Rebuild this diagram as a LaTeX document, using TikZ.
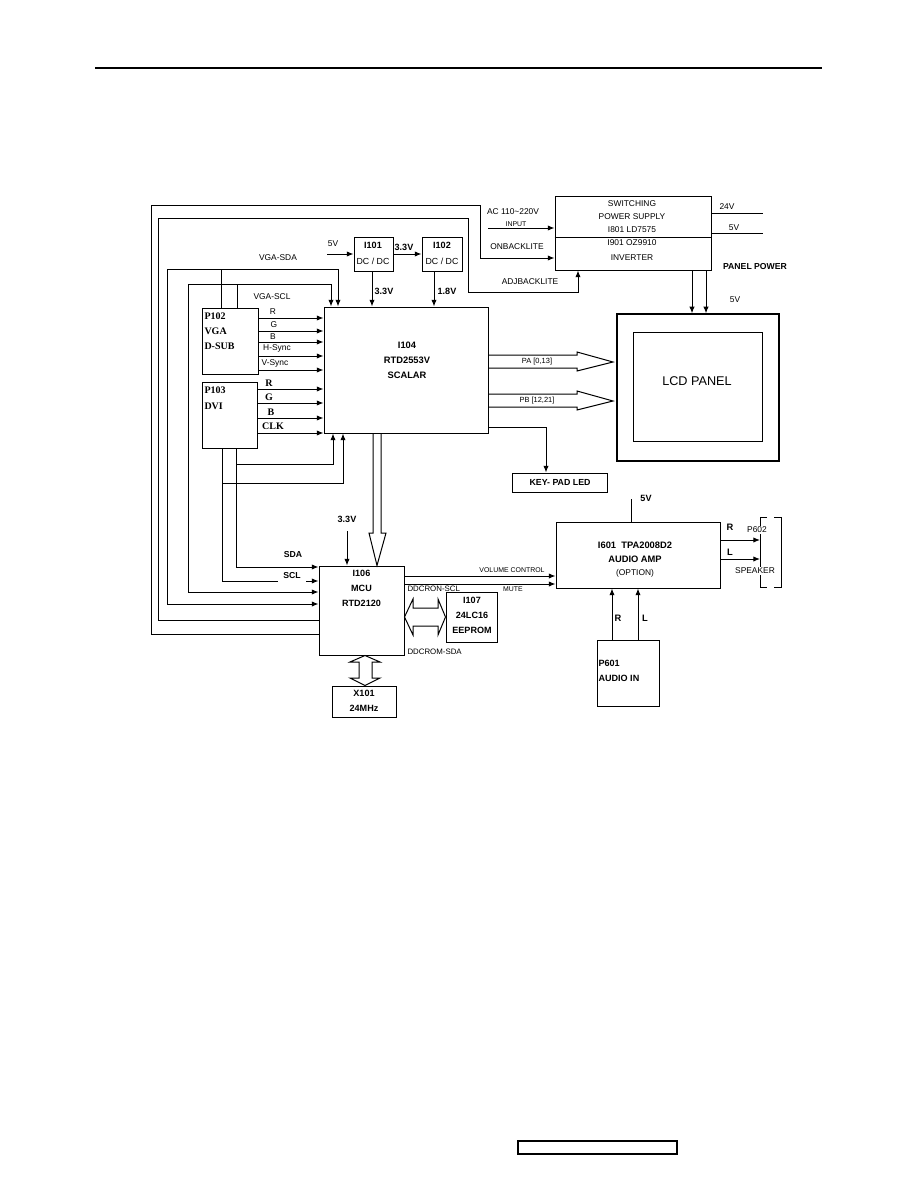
\documentclass[tikz,border=0pt]{standalone}
\usepackage{fontspec}
\setmainfont{Liberation Sans}
\newfontfamily\serifbf{Liberation Serif}
\usetikzlibrary{arrows.meta,fit}
\begin{document}
\begin{tikzpicture}[x=0.75pt,y=-0.75pt,line width=0.75pt,
  bx/.style={draw,inner sep=0pt},
  arr/.style={-{Latex[length=5pt,width=4pt]}},
  sm/.style={inner sep=0pt,font=\fontsize{6.3}{10}\selectfont},
  tn/.style={inner sep=0pt,font=\fontsize{5.2}{6}\selectfont},
  bl/.style={inner sep=0pt,align=center,font=\fontsize{6.8}{11.25}\selectfont\bfseries},
  sb/.style={inner sep=0pt,align=left,font=\serifbf\bfseries\fontsize{7.5}{11.25}\selectfont},
]
\fill[white] (0,0) rectangle (918,1188);
\path[use as bounding box] (0,0) rectangle (918,1188);

% header and footer
\draw[line width=1pt] (95,68) -- (822,68);
\node[bx,line width=1pt,fit={(518,1141) (677,1154)}] (foot) {};

% boxes
\node[bx,fit={(555,196) (711,270)}] (sps) {};
\draw (sps.west |- 0,237) -- (sps.east |- 0,237);
\node[bx,fit={(354,237) (393,271)}] (i101) {};
\node[bx,fit={(422,237) (462,271)}] (i102) {};
\node[bx,fit={(324,307) (488,433)}] (scal) {};
\node[bx,fit={(202,308) (258,374)}] (p102) {};
\node[bx,fit={(202,382) (257,448)}] (p103) {};
\node[bx,line width=1pt,fit={(617,314) (779,461)}] (lcdo) {};
\node[bx,fit={(633,332) (762,441)}] (lcdi) {};
\node[bx,fit={(512,473) (607,492)}] (key) {};
\node[bx,fit={(319,566) (404,655)}] (mcu) {};
\node[bx,fit={(446,592) (497,642)}] (i107) {};
\node[bx,fit={(332,686) (396,717)}] (x101) {};
\node[bx,fit={(556,522) (720,588)}] (amp) {};
\node[bx,fit={(597,640) (659,706)}] (p601) {};

% box texts
\node[sm,align=center,font=\fontsize{6.3}{10}\selectfont] (spst) at (632,216.5) {SWITCHING\\POWER SUPPLY\\I801 LD7575};
\node[sm,align=center,font=\fontsize{6.3}{11.25}\selectfont] (invt) at (632,250.5) {I901 OZ9910\\INVERTER};
\node[bl] (i101a) at (373,245) {I101};
\node[sm,font=\fontsize{6.6}{8}\selectfont] (i101b) at (373,261) {DC / DC};
\node[bl] (i102a) at (442,245) {I102};
\node[sm,font=\fontsize{6.6}{8}\selectfont] (i102b) at (442,261) {DC / DC};
\node[bl,font=\fontsize{7}{11.25}\selectfont\bfseries] (scalt) at (407,360) {I104\\RTD2553V\\SCALAR};
\node[sb,anchor=west] (p102t) at (204,331) {P102\\VGA\\D-SUB};
\node[sb,anchor=west,font=\serifbf\bfseries\fontsize{7.5}{12}\selectfont] (p103t) at (204,398) {P103\\DVI};
\node[inner sep=0pt,font=\fontsize{9.5}{11}\selectfont] (lcdt) at (697,381) {LCD PANEL};
\node[bl,font=\fontsize{6.6}{8}\selectfont\bfseries] (keyt) at (560,482) {KEY- PAD LED};
\node[bl] (mcut) at (361.5,588) {I106\\MCU\\RTD2120};
\node[bl] (i107t) at (472,615) {I107\\24LC16\\EEPROM};
\node[bl] (x101t) at (364,700.5) {X101\\24MHz};
\node[bl,font=\fontsize{7}{10.5}\selectfont\bfseries] (ampt) at (635,552) {I601~~TPA2008D2\\AUDIO AMP};
\node[sm] (opt) at (635,573) {(OPTION)};
\node[bl,align=left,anchor=west] (p601t) at (598,670.5) {P601\\AUDIO IN};

% top power section
\draw[arr] (327,254) -- (i101.west |- 0,254);
\node[sm] (l5va) at (333,244) {5V};
\draw[arr] (i101.east |- 0,254) -- (i102.west |- 0,254);
\node[bl] (l33a) at (404,247) {3.3V};
\draw[arr] (i101.south -| 372,0) -- (scal.north -| 372,0);
\node[bl] (l33b) at (384,291) {3.3V};
\draw[arr] (i102.south -| 434,0) -- (scal.north -| 434,0);
\node[bl] (l18) at (447,291) {1.8V};

\draw[arr] (488,228) -- (sps.west |- 0,228);
\node[sm] (lac) at (513,212) {AC 110\textasciitilde220V};
\node[tn] (linp) at (516,224) {INPUT};
\node[sm] (lonb) at (517,247) {ONBACKLITE};
\node[sm] (ladj) at (530,282) {ADJBACKLITE};
\draw (sps.east |- 0,213) -- (763,213);
\node[sm] (l24) at (727,207) {24V};
\draw (sps.east |- 0,233) -- (763,233);
\node[sm] (l5vb) at (734,228) {5V};
\node[bl,font=\fontsize{6.5}{8}\selectfont\bfseries] (lpp) at (755,267) {PANEL POWER};
\node[sm] (l5vc) at (735,300) {5V};
\draw[arr] (sps.south -| 692,0) -- (lcdo.north -| 692,0);
\draw[arr] (sps.south -| 706,0) -- (lcdo.north -| 706,0);

% long loops
\draw[arr] (mcu.west |- 0,634) -- (151,634) -- (151,205) -- (480,205) -- (480,258) -- (sps.west |- 0,258);
\draw[arr] (mcu.west |- 0,620) -- (158,620) -- (158,218) -- (468,218) -- (468,292) -- (578,292) -- (sps.south -| 578,0);

% VGA-SDA / VGA-SCL
\draw[arr] (167,269) -- (338,269) -- (scal.north -| 338,0);
\draw[arr] (167,269) -- (167,604) -- (mcu.west |- 0,604);
\draw (221,269) -- (p102.north -| 221,0);
\node[sm] (lvsda) at (278,258) {VGA-SDA};
\draw[arr] (188,284) -- (331,284) -- (scal.north -| 331,0);
\draw[arr] (188,284) -- (188,592) -- (mcu.west |- 0,592);
\draw (237,284) -- (p102.north -| 237,0);
\node[sm] (lvscl) at (272,297) {VGA-SCL};

% VGA signals
\foreach \yy in {318,331,342,356,370} \draw[arr] (p102.east |- 0,\yy) -- (scal.west |- 0,\yy);
\node[sm] (lr1) at (273,312) {R};
\node[sm] (lg1) at (274,325) {G};
\node[sm] (lb1) at (273,337) {B};
\node[sm] (lh1) at (277,348) {H-Sync};
\node[sm] (lv1) at (275,363) {V-Sync};

% DVI signals
\foreach \yy in {389,403,418,433} \draw[arr] (p103.east |- 0,\yy) -- (scal.west |- 0,\yy);
\node[sb] (lr2) at (269,383) {R};
\node[sb] (lg2) at (269,397) {G};
\node[sb] (lb2) at (271,412) {B};
\node[sb] (lc2) at (273,426) {CLK};

% DVI DDC lines
\draw[arr] (p103.south -| 236,0) -- (236,567) -- (mcu.west |- 0,567);
\draw[arr] (236,464) -- (333,464) -- (scal.south -| 333,0);
\draw (p103.south -| 222,0) -- (222,581) -- (278,581);
\draw[arr] (306,581) -- (mcu.west |- 0,581);
\draw[arr] (222,483) -- (343,483) -- (scal.south -| 343,0);
\node[bl,font=\fontsize{6.5}{8}\selectfont\bfseries] (lsda) at (293,555) {SDA};
\node[bl,font=\fontsize{6.5}{8}\selectfont\bfseries] (lscl) at (292,576) {SCL};

% scalar -> MCU hollow arrow
\draw (scal.south -| 373,0) -- (373,533) -- (369,533) -- (mcu.north -| 377,0) -- (386,533) -- (381,533) -- (scal.south -| 381,0);
\draw[arr] (347,531) -- (mcu.north -| 347,0);
\node[bl] (l33c) at (347,519) {3.3V};

% scalar -> LCD buses
\draw (scal.east |- 0,355) -- (577,355) -- (577,352) -- (613,362) -- (577,371) -- (577,368) -- (scal.east |- 0,368);
\node[tn,font=\fontsize{5.6}{6}\selectfont] (lpa) at (537,362) {PA [0,13]};
\draw (scal.east |- 0,394) -- (577,394) -- (577,391) -- (613,401) -- (577,410) -- (577,407) -- (scal.east |- 0,407);
\node[tn,font=\fontsize{5.6}{6}\selectfont] (lpb) at (537,401) {PB [12,21]};

% key pad
\draw[arr] (scal.east |- 0,427) -- (546,427) -- (key.north -| 546,0);

% MCU -> amp
\draw[arr] (mcu.east |- 0,576) -- (amp.west |- 0,576);
\draw[arr] (mcu.east |- 0,584) -- (amp.west |- 0,584);
\node[tn] (lvol) at (512,570) {VOLUME CONTROL};
\node[tn] (lmute) at (513,589) {MUTE};
\node[sm,anchor=west,font=\fontsize{5.9}{7}\selectfont] (lddc1) at (407,589) {DDCRON-SCL};
\node[sm,anchor=west,font=\fontsize{5.9}{7}\selectfont] (lddc2) at (407,652) {DDCROM-SDA};

% MCU <-> EEPROM
\draw (mcu.east |- 0,617) -- (413,599) -- (413,608) -- (438,608) -- (438,599) -- (i107.west |- 0,617) -- (438,635) -- (438,626) -- (413,626) -- (413,635) -- cycle;
% MCU <-> X101
\draw (mcu.south -| 365,0) -- (350,662) -- (359,662) -- (359,678) -- (350,678) -- (x101.north -| 365,0) -- (380,678) -- (372,678) -- (372,662) -- (380,662) -- cycle;

% audio amp
\draw (631,499) -- (amp.north -| 631,0);
\node[bl] (l5vd) at (646,498) {5V};
\draw[arr] (amp.east |- 0,540) -- (760,540);
\draw[arr] (amp.east |- 0,559) -- (760,559);
\node[bl,font=\fontsize{7}{8}\selectfont\bfseries] (lra) at (730,527) {R};
\node[bl,font=\fontsize{7}{8}\selectfont\bfseries] (lla) at (730,552) {L};
\draw (767,517) -- (760,517) -- (760,587) -- (767,587);
\draw (774,517) -- (781,517) -- (781,587) -- (774,587);
\node[sm,fill=white,inner sep=1pt] (lp602) at (757,530) {P602};
\node[sm,fill=white,inner sep=1pt] (lspk) at (755,571) {SPEAKER};
\draw[arr] (p601.north -| 612,0) -- (amp.south -| 612,0);
\draw[arr] (p601.north -| 638,0) -- (amp.south -| 638,0);
\node[bl,font=\fontsize{7}{8}\selectfont\bfseries] (lrb) at (618,618) {R};
\node[bl,font=\fontsize{7}{8}\selectfont\bfseries] (llb) at (645,618) {L};
\end{tikzpicture}
\end{document}
